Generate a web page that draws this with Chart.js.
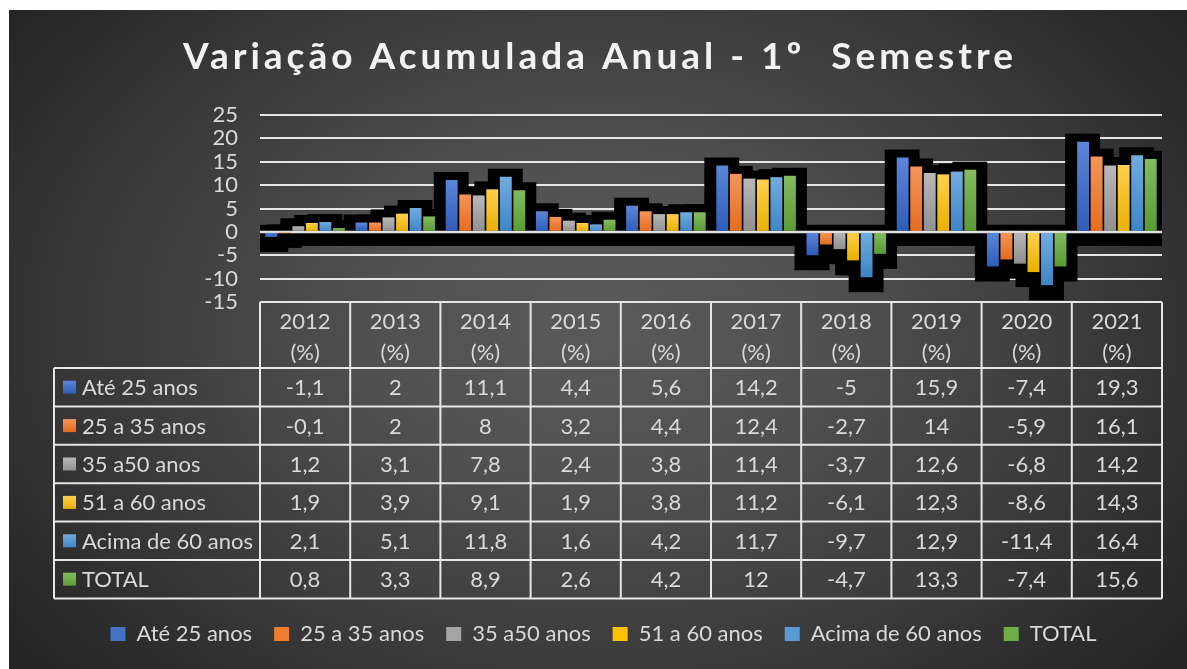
<!DOCTYPE html>
<html><head><meta charset="utf-8">
<script src="https://cdn.jsdelivr.net/npm/chart.js@4/dist/chart.umd.min.js"></script>
<style>
html,body{margin:0;padding:0;background:#ffffff;width:1187px;height:669px;overflow:hidden;}
#wrap{position:absolute;left:9px;top:10px;width:1178px;height:659px;
 background:radial-gradient(ellipse 62% 78% at 50% 48%, #5a5a5a 0%, #515151 30%, #3a3a3a 68%, #252525 100%);}
canvas{display:block}
</style></head><body>
<div id="wrap"><canvas id="c" width="1178" height="659"></canvas></div>
<script>
const chartTitle = 'Variação Acumulada Anual - 1º  Semestre';
const categories = ['2012','2013','2014','2015','2016','2017','2018','2019','2020','2021'];
const unitLabel = '(%)';
const seriesNames = ['Até 25 anos','25 a 35 anos','35 a50 anos','51 a 60 anos','Acima de 60 anos','TOTAL'];
const ate25   = [-1.1, 2.0, 11.1, 4.4, 5.6, 14.2, -5.0, 15.9, -7.4, 19.3];
const de25a35 = [-0.1, 2.0,  8.0, 3.2, 4.4, 12.4, -2.7, 14.0, -5.9, 16.1];
const de35a50 = [ 1.2, 3.1,  7.8, 2.4, 3.8, 11.4, -3.7, 12.6, -6.8, 14.2];
const de51a60 = [ 1.9, 3.9,  9.1, 1.9, 3.8, 11.2, -6.1, 12.3, -8.6, 14.3];
const acima60 = [ 2.1, 5.1, 11.8, 1.6, 4.2, 11.7, -9.7, 12.9, -11.4, 16.4];
const total   = [ 0.8, 3.3,  8.9, 2.6, 4.2, 12.0, -4.7, 13.3, -7.4, 15.6];
const yMin = -15, yMax = 25, yStep = 5;

const seriesValues = [ate25, de25a35, de35a50, de51a60, acima60, total];
const topColors    = ['#5b86d9','#f5955a','#b8b8b8','#ffd04d','#72acdf','#84bb61'];
const bottomColors = ['#2e5cb8','#e46c1e','#8f8f8f','#e8b000','#3d85c6','#5b9b33'];
const midColors    = ['#4472c4','#ed7d31','#a5a5a5','#ffc000','#5b9bd5','#70ad47'];

const FONT = 'Lato, "Noto Sans", sans-serif';
const FS = 22;
const TXT = '#d9d9d9';
const LINE = '#e6e6e6';

function barFill(i){
  return (ctx) => {
    const chart = ctx.chart, ys = chart.scales && chart.scales.y;
    if (!ys || ctx.type !== 'data') return midColors[i];
    const p0 = ys.getPixelForValue(0), p1 = ys.getPixelForValue(ctx.raw);
    if (!isFinite(p0) || !isFinite(p1)) return midColors[i];
    const t = Math.min(p0,p1), b = Math.max(p0,p1);
    if (b - t < 1) return topColors[i];
    const g = chart.ctx.createLinearGradient(0, t, 0, b);
    g.addColorStop(0, topColors[i]); g.addColorStop(1, bottomColors[i]);
    return g;
  };
}

function fmt(v){ return String(v).replace('.', ','); }

const shadowPlugin = {
  id: 'barShadow',
  beforeDatasetsDraw(chart){
    const {ctx, chartArea: a} = chart;
    ctx.save();
    ctx.beginPath(); ctx.rect(a.left, a.top, a.right - a.left, a.bottom - a.top); ctx.clip();
    ctx.fillStyle = '#000000';
    chart.data.datasets.forEach((ds, di) => {
      const meta = chart.getDatasetMeta(di);
      meta.data.forEach(el => {
        const p = el.getProps(['x','y','base','width'], true);
        const l = p.x - p.width/2 - 12, r = p.x + p.width/2 + 11;
        const t = Math.min(p.y, p.base) - 8, b = Math.max(p.y, p.base) + 15;
        ctx.fillRect(l, t, r - l, b - t);
      });
    });
    const y0 = chart.scales.y.getPixelForValue(0);
    ctx.strokeStyle = '#e2e2e2'; ctx.lineWidth = 2.5;
    ctx.beginPath(); ctx.moveTo(a.left, y0); ctx.lineTo(a.right, y0); ctx.stroke();
    ctx.restore();
  }
};

const tablePlugin = {
  id: 'dataTable',
  afterDraw(chart){
    const {ctx, chartArea: a} = chart;
    const xs = chart.scales.x;
    const half = (xs.getPixelForValue(1) - xs.getPixelForValue(0)) / 2;
    const headerTop = a.bottom, headerH = 66, rowH = 38.4, labelLeft = 45;
    const rowsTop = headerTop + headerH;
    const bottom = rowsTop + rowH * seriesNames.length;
    ctx.save();
    ctx.strokeStyle = LINE; ctx.lineWidth = 2;
    ctx.beginPath();
    for (let i = 0; i <= categories.length; i++) {
      const x = i < categories.length ? xs.getPixelForValue(i) - half : xs.getPixelForValue(categories.length - 1) + half;
      ctx.moveTo(x, headerTop); ctx.lineTo(x, bottom);
    }
    ctx.moveTo(a.left, headerTop); ctx.lineTo(a.right, headerTop);
    for (let k = 0; k <= seriesNames.length; k++) {
      const y = rowsTop + rowH * k;
      ctx.moveTo(labelLeft, y); ctx.lineTo(a.right, y);
    }
    ctx.moveTo(labelLeft, rowsTop); ctx.lineTo(labelLeft, bottom);
    ctx.stroke();

    ctx.font = FS + 'px ' + FONT;
    ctx.fillStyle = TXT;
    ctx.textBaseline = 'middle';
    seriesNames.forEach((name, k) => {
      const cy = rowsTop + rowH * k + rowH / 2;
      const g = ctx.createLinearGradient(0, cy - 6.5, 0, cy + 6.5);
      g.addColorStop(0, topColors[k]); g.addColorStop(1, bottomColors[k]);
      ctx.fillStyle = g;
      ctx.fillRect(labelLeft + 9, cy - 6.5, 13, 13);
      ctx.fillStyle = TXT;
      ctx.textAlign = 'left';
      ctx.fillText(name, labelLeft + 28, cy + 1);
      ctx.textAlign = 'center';
      seriesValues[k].forEach((v, i) => {
        ctx.fillText(fmt(v), xs.getPixelForValue(i), cy + 1);
      });
    });
    ctx.restore();
  }
};

const titlePlugin = {
  id: 'spacedTitle',
  afterDraw(chart){
    const ctx = chart.ctx;
    ctx.save();
    ctx.font = 'bold 37px ' + FONT;
    ctx.fillStyle = '#f2f2f2';
    ctx.textBaseline = 'alphabetic';
    ctx.textAlign = 'left';
    const targetW = 830, cx = 589, base = 59;
    const chars = Array.from(chartTitle);
    const w0 = ctx.measureText(chartTitle).width;
    const ls = (targetW - w0) / (chars.length - 1);
    let x = cx - targetW / 2;
    if ('letterSpacing' in ctx) {
      ctx.letterSpacing = ls + 'px';
      ctx.fillText(chartTitle, x, base);
    } else {
      chars.forEach(ch => { ctx.fillText(ch, x, base); x += ctx.measureText(ch).width + ls; });
    }
    ctx.restore();
  }
};

new Chart(document.getElementById('c'), {
  type: 'bar',
  data: {
    labels: categories.map(c => [c, unitLabel]),
    datasets: seriesNames.map((name, i) => ({
      label: name,
      data: seriesValues[i],
      backgroundColor: barFill(i),
      borderWidth: 0,
      categoryPercentage: 0.9,
      barPercentage: 0.88
    }))
  },
  options: {
    responsive: false,
    animation: false,
    devicePixelRatio: 1,
    layout: { padding: { top: 105, right: 25, bottom: 14, left: 36 } },
    plugins: {
      title: { display: false },
      tooltip: { enabled: false },
      legend: {
        position: 'bottom',
        labels: {
          color: TXT,
          font: { family: FONT, size: FS },
          boxWidth: 15, boxHeight: 14, padding: 22,
          generateLabels: (chart) => chart.data.datasets.map((ds, i) => ({
            text: ds.label, fillStyle: midColors[i], strokeStyle: 'rgba(0,0,0,0)',
            lineWidth: 0, hidden: false, datasetIndex: i, fontColor: TXT
          }))
        }
      }
    },
    scales: {
      x: {
        type: 'category',
        offset: true,
        grid: { display: false, drawTicks: false },
        border: { display: false },
        ticks: {
          color: TXT, font: { family: FONT, size: FS, lineHeight: 1.41 },
          padding: 4, maxRotation: 0, autoSkip: false
        },
        afterFit: (axis) => { axis.height = 299; }
      },
      y: {
        min: yMin, max: yMax,
        grid: { color: LINE, lineWidth: 2, drawTicks: false },
        border: { display: false },
        ticks: {
          stepSize: yStep, autoSkip: false, color: TXT, font: { family: FONT, size: FS }, padding: 22
        },
        afterFit: (axis) => { axis.width = 215; }
      }
    }
  },
  plugins: [shadowPlugin, tablePlugin, titlePlugin]
});
</script>
</body></html>
